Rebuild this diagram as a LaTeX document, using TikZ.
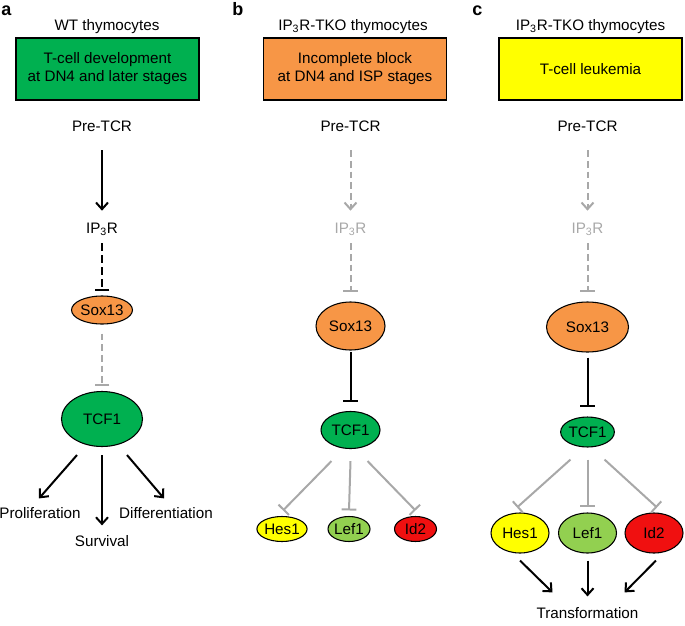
\documentclass[tikz,border=0pt]{standalone}
\usepackage{fontspec}
\setmainfont{Liberation Sans}
\usetikzlibrary{shapes.geometric}
\usetikzlibrary{arrows.meta}
\definecolor{cellgreen}{RGB}{0,176,80}
\definecolor{blockorange}{RGB}{247,150,70}
\definecolor{leukyellow}{RGB}{255,255,0}
\definecolor{lefgreen}{RGB}{146,208,80}
\definecolor{idred}{RGB}{240,16,16}
\definecolor{lostgray}{RGB}{168,168,168}
\tikzset{
  lbl/.style={inner sep=0pt,text height=8pt,text depth=0pt,font=\fontsize{11.4}{13.5}\selectfont},
  panel/.style={inner sep=0pt,font=\fontsize{13.5}{16}\selectfont\bfseries},
  stagebox/.style={draw,line width=1pt,minimum width=137.25pt,minimum height=46.5pt,align=center,font=\fontsize{11.4}{13.5}\selectfont},
  gene/.style={ellipse,draw,line width=0.8pt,inner sep=0pt,font=\fontsize{11.4}{13.5}\selectfont},
  act/.style={line width=1.5pt,-{Straight Barb[length=5pt,width=9pt,line width=1.5pt]}},
  inh/.style={line width=1.5pt,-{Bar[width=11pt,line width=1.5pt]}},
  lost/.style={draw=lostgray,dash pattern=on 5pt off 3pt},
}
\begin{document}
\begin{tikzpicture}[x=0.75pt,y=-0.75pt]
\useasboundingbox (0,0) rectangle (685,625);
% panel a
\node[panel,anchor=base west] (taga) at (1,15) {a};
\node[lbl] (titlea) at (107,25) {WT thymocytes};
\node[stagebox,fill=cellgreen] (boxa) at (107.5,69) {T-cell development\\at DN4 and later stages};
\node[lbl] (prea) at (102,126) {Pre-TCR};
\node[lbl] (ipa) at (102,228) {IP\textsubscript{3}R};
\node[gene,fill=blockorange,minimum width=39pt,minimum height=21pt] (soxa) at (102,310) {Sox13};
\node[gene,fill=cellgreen,minimum width=60.75pt,minimum height=41.25pt] (tcfa) at (102,419) {TCF1};
\node[lbl] (prolif) at (40,513) {Proliferation};
\node[lbl] (surv) at (102,541) {Survival};
\node[lbl] (diff) at (166,513) {Differentiation};
\draw[act,shorten <=14pt,shorten >=8.8pt] (prea) -- (ipa);
\draw[inh,dash pattern=on 6pt off 3pt,shorten <=7.3pt,shorten >=3pt] (ipa) -- (soxa);
\draw[inh,lost,shorten <=6.75pt,shorten >=4pt] (soxa) -- (tcfa);
\draw[act] ([shift={(-25,8)}]tcfa.south) -- ([shift={(-1,-9)}]prolif.north);
\draw[act] ([shift={(0,8)}]tcfa.south) -- ([shift={(0,-10)}]surv.north);
\draw[act] ([shift={(25,8)}]tcfa.south) -- ([shift={(-2,-9)}]diff.north);
% panel b
\node[panel,anchor=base west] (tagb) at (232,15) {b};
\node[lbl] (titleb) at (353,25) {IP\textsubscript{3}R-TKO thymocytes};
\node[stagebox,fill=blockorange] (boxb) at (355,69) {Incomplete block\\at DN4 and ISP stages};
\node[lbl] (preb) at (350.5,126) {Pre-TCR};
\node[lbl,text=lostgray] (ipb) at (350.5,228) {IP\textsubscript{3}R};
\node[gene,fill=blockorange,minimum width=51.75pt,minimum height=36pt] (soxb) at (350.5,326) {Sox13};
\node[gene,fill=cellgreen,minimum width=44.25pt,minimum height=27.75pt] (tcfb) at (350.5,430) {TCF1};
\node[gene,fill=leukyellow,minimum width=31.5pt,minimum height=18.75pt] (hesb) at (282,529) {Hes1};
\node[gene,fill=lefgreen,minimum width=31.5pt,minimum height=18.75pt] (lefb) at (349,529) {Lef1};
\node[gene,fill=idred,minimum width=31.5pt,minimum height=18.75pt] (idb) at (415.5,529) {Id2};
\draw[act,lost,shorten <=14pt,shorten >=8.8pt] (preb) -- (ipb);
\draw[inh,lost,shorten <=7.3pt,shorten >=6.75pt] (ipb) -- (soxb);
\draw[inh,shorten <=1pt,shorten >=6.4pt] (soxb) -- (tcfb);
\draw[inh,draw=lostgray] ([shift={(-19,12)}]tcfb.south) -- ([shift={(1,-5.5)}]hesb.north);
\draw[inh,draw=lostgray] ([shift={(0,12)}]tcfb.south) -- ([shift={(0,-5.5)}]lefb.north);
\draw[inh,draw=lostgray] ([shift={(17,12)}]tcfb.south) -- ([shift={(0,-5.5)}]idb.north);
% panel c
\node[panel,anchor=base west] (tagc) at (472,15) {c};
\node[lbl] (titlec) at (590.5,25) {IP\textsubscript{3}R-TKO thymocytes};
\node[stagebox,fill=leukyellow] (boxc) at (590.5,69) {T-cell leukemia};
\node[lbl] (prec) at (587.5,126) {Pre-TCR};
\node[lbl,text=lostgray] (ipc) at (587.5,228) {IP\textsubscript{3}R};
\node[gene,fill=blockorange,minimum width=61.5pt,minimum height=37.5pt] (soxc) at (587.5,327) {Sox13};
\node[gene,fill=cellgreen,minimum width=39pt,minimum height=22.5pt] (tcfc) at (587.5,432) {TCF1};
\node[gene,fill=leukyellow,minimum width=43.5pt,minimum height=30pt] (hesc) at (520,533) {Hes1};
\node[gene,fill=lefgreen,minimum width=43.5pt,minimum height=30pt] (lefc) at (587.5,533) {Lef1};
\node[gene,fill=idred,minimum width=43.5pt,minimum height=30pt] (idc) at (654,533) {Id2};
\node[lbl] (transf) at (587.5,613) {Transformation};
\draw[act,lost,shorten <=14pt,shorten >=8.8pt] (prec) -- (ipc);
\draw[inh,lost,shorten <=7.3pt,shorten >=6.75pt] (ipc) -- (soxc);
\draw[inh,shorten <=3.75pt,shorten >=6.75pt] (soxc) -- (tcfc);
\draw[inh,draw=lostgray] ([shift={(-17,12)}]tcfc.south) -- ([shift={(-3,-5)}]hesc.north);
\draw[inh,draw=lostgray] ([shift={(0,12)}]tcfc.south) -- ([shift={(0,-5)}]lefc.north);
\draw[inh,draw=lostgray] ([shift={(17,12)}]tcfc.south) -- ([shift={(3,-5)}]idc.north);
\draw[act] ([shift={(0,7)}]hesc.south) -- ([shift={(-35,-15)}]transf.north);
\draw[act] ([shift={(0,7)}]lefc.south) -- ([shift={(0,-11)}]transf.north);
\draw[act] ([shift={(2,7)}]idc.south) -- ([shift={(37,-15)}]transf.north);
\end{tikzpicture}
\end{document}
